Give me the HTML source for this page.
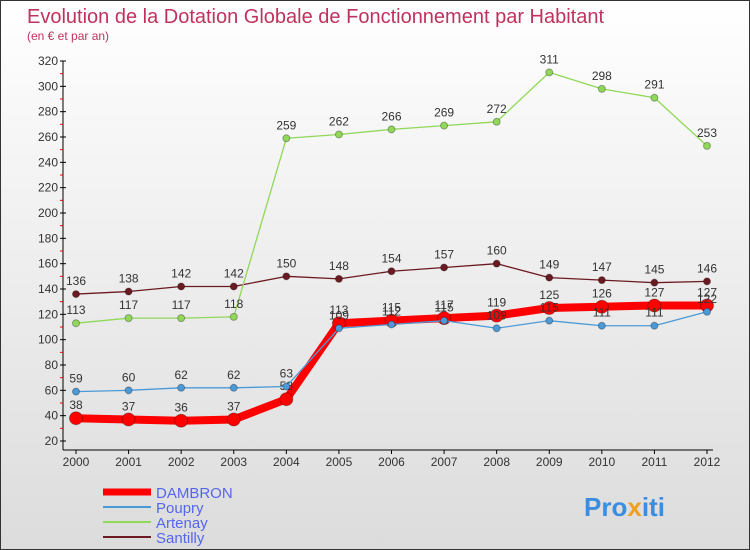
<!DOCTYPE html>
<html><head><meta charset="utf-8"><style>
body{margin:0;width:750px;height:550px;overflow:hidden;font-family:"Liberation Sans",sans-serif}
#wrap{position:relative;width:748px;height:548px;border:1px solid #333;background:linear-gradient(#fff,#f4f4f4 30%,#dcdcdc)}
</style></head><body>
<div id="wrap">
<svg id="svg" width="748" height="548" style="position:absolute;left:0;top:0">
<text x="26" y="22" font-size="20" fill="#c0325e">Evolution de la Dotation Globale de Fonctionnement par Habitant</text>
<text x="26" y="39" font-size="12" fill="#c0325e">(en € et par an)</text>
<g id="axes"></g><g id="series"></g>
<g>
<line x1="102" y1="491" x2="150" y2="491" stroke="#f00" stroke-width="7"/>
<text x="155" y="497" font-size="15" fill="#5566ee">DAMBRON</text>
<line x1="102" y1="506" x2="150" y2="506" stroke="#4a9ad8" stroke-width="2"/>
<text x="155" y="512" font-size="15" fill="#5566ee">Poupry</text>
<line x1="102" y1="521" x2="150" y2="521" stroke="#8fd858" stroke-width="2"/>
<text x="155" y="527" font-size="15" fill="#5566ee">Artenay</text>
<line x1="102" y1="536" x2="150" y2="536" stroke="#6b1a22" stroke-width="2"/>
<text x="155" y="542" font-size="15" fill="#5566ee">Santilly</text>
</g>
<text x="583" y="515" font-size="26" font-weight="bold" fill="#3a8de0">Pro<tspan fill="#f0a020">x</tspan>iti</text>
</svg>
</div>
<script>
const years=[2000,2001,2002,2003,2004,2005,2006,2007,2008,2009,2010,2011,2012];
const dambron=[38,37,36,37,53,113,115,117,119,125,126,127,127];
const poupry=[59,60,62,62,63,109,112,115,109,115,111,111,122];
const artenay=[113,117,117,118,259,262,266,269,272,311,298,291,253];
const santilly=[136,138,142,142,150,148,154,157,160,149,147,145,146];
const yTicks=[20,40,60,80,100,120,140,160,180,200,220,240,260,280,300,320];
const NS="http://www.w3.org/2000/svg";
const X=i=>75+i*(706-75)/(years.length-1);
const Y=v=>440-(v-20)*380/300;
function mk(tag,attrs,parent){const e=document.createElementNS(NS,tag);for(const k in attrs)e.setAttribute(k,attrs[k]);parent.appendChild(e);return e;}
const ax=document.getElementById('axes');
let a=mk('line',{x1:62,y1:Y(320),x2:62,y2:449,stroke:'#000'},ax);


a=mk('line',{x1:62,y1:449,x2:712,y2:449,stroke:'#000'},ax);


yTicks.forEach(v=>{
 mk('line',{x1:59,y1:Y(v),x2:65,y2:Y(v),stroke:'#000'},ax);
 if(v<320)mk('line',{x1:59,y1:Y(v+10),x2:62,y2:Y(v+10),stroke:'#f00'},ax);
 const t=mk('text',{x:57,y:Y(v)+4,'text-anchor':'end','font-size':12,fill:'#333'},ax);t.textContent=v;
 
 
});
years.forEach((y,i)=>{
 mk('line',{x1:X(i),y1:449,x2:X(i),y2:453,stroke:'#000'},ax);
 const t=mk('text',{x:X(i),y:465,'text-anchor':'middle','font-size':12,fill:'#333'},ax);t.textContent=y;
 
 
});
const sg=document.getElementById('series');
function series(name,vals,color,w,r){
 const g=mk('g',{},sg);
 
 
 mk('polyline',{points:vals.map((v,i)=>X(i)+','+Y(v)).join(' '),fill:'none',stroke:color,'stroke-width':w,'stroke-linejoin':'round'},g);
 vals.forEach((v,i)=>{
  const c=mk('circle',{cx:X(i),cy:Y(v),r:r,fill:color,stroke:'rgba(0,0,0,0.3)'},g);
  
  
  const t=mk('text',{x:X(i),y:Y(v)-9,'text-anchor':'middle','font-size':12,fill:'#333'},g);t.textContent=v;
  
  
 });
}
series('santilly',santilly,'#6b1a22',1.3,3.5);
series('artenay',artenay,'#8fd858',1.3,3.5);
series('dambron',dambron,'#f00',8,6.5);
series('poupry',poupry,'#4a9ad8',1.3,3.5);
</script>
</body></html>
